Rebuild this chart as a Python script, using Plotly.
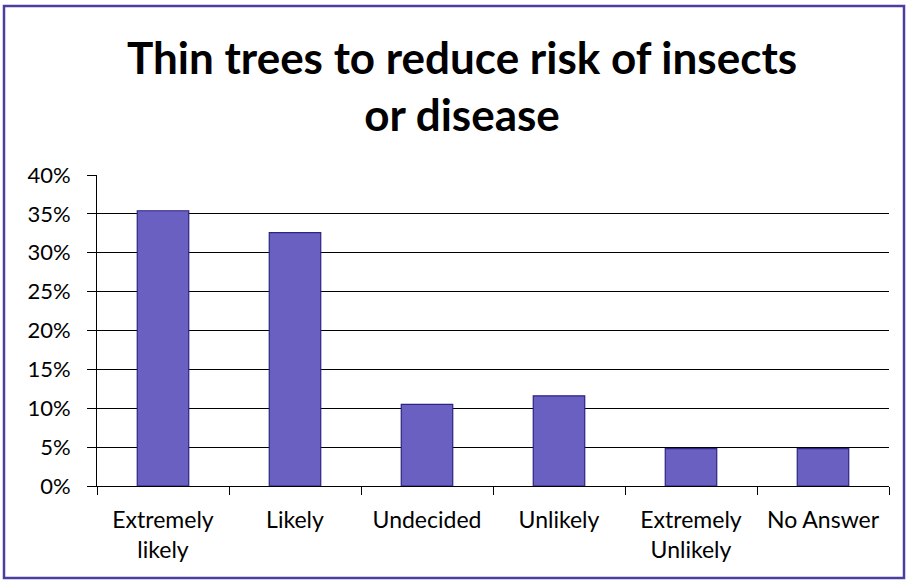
import plotly.graph_objects as go

categories = ["Extremely<br>likely", "Likely", "Undecided", "Unlikely", "Extremely<br>Unlikely", "No Answer"]
values = [35.4, 32.6, 10.5, 11.6, 4.8, 4.8]
y_ticks = [0, 5, 10, 15, 20, 25, 30, 35, 40]
y_tick_labels = [f"{v}%" for v in y_ticks]
title_text = "Thin trees to reduce risk of insects<br>or disease"

fig = go.Figure(go.Bar(
    x=categories, y=values,
    marker=dict(color="#6a60c2", line=dict(color="#2c2384", width=1.2)),
    width=0.39,
))

fig.update_layout(
    width=906, height=582,
    margin=dict(l=97, r=17, t=175, b=96),
    paper_bgcolor="white", plot_bgcolor="white",
    showlegend=False,
    title=dict(text=title_text, x=0.51, xanchor="center", y=0.873, yanchor="middle",
               font=dict(family="Lato", size=44, color="black", weight="bold")),
    font=dict(family="Lato", size=22, color="black"),
    xaxis=dict(showline=True, linecolor="black", linewidth=1, ticks="outside",
               tickson="boundaries", ticklen=8, tickcolor="black",
               tickfont=dict(size=23), showgrid=False, ticklabelstandoff=13),
    yaxis=dict(range=[0, 40], tickvals=y_ticks, ticktext=y_tick_labels, showline=True,
               linecolor="black", linewidth=1, ticks="outside", ticklen=9,
               tickcolor="black", showgrid=True, gridcolor="black", gridwidth=1,
               zeroline=False, tickfont=dict(size=22), ticklabelstandoff=12),
    shapes=[dict(type="rect", xref="paper", yref="paper",
                 x0=(4 - 97) / 792, x1=(904 - 97) / 792,
                 y0=(486 - 578) / 311, y1=(486 - 6) / 311,
                 line=dict(color="#4a3f9e", width=2.5), layer="below")],
)

fig.write_html("out.html", config={"displayModeBar": False},
               post_script="document.body.style.margin='0';document.body.style.overflow='hidden';")
